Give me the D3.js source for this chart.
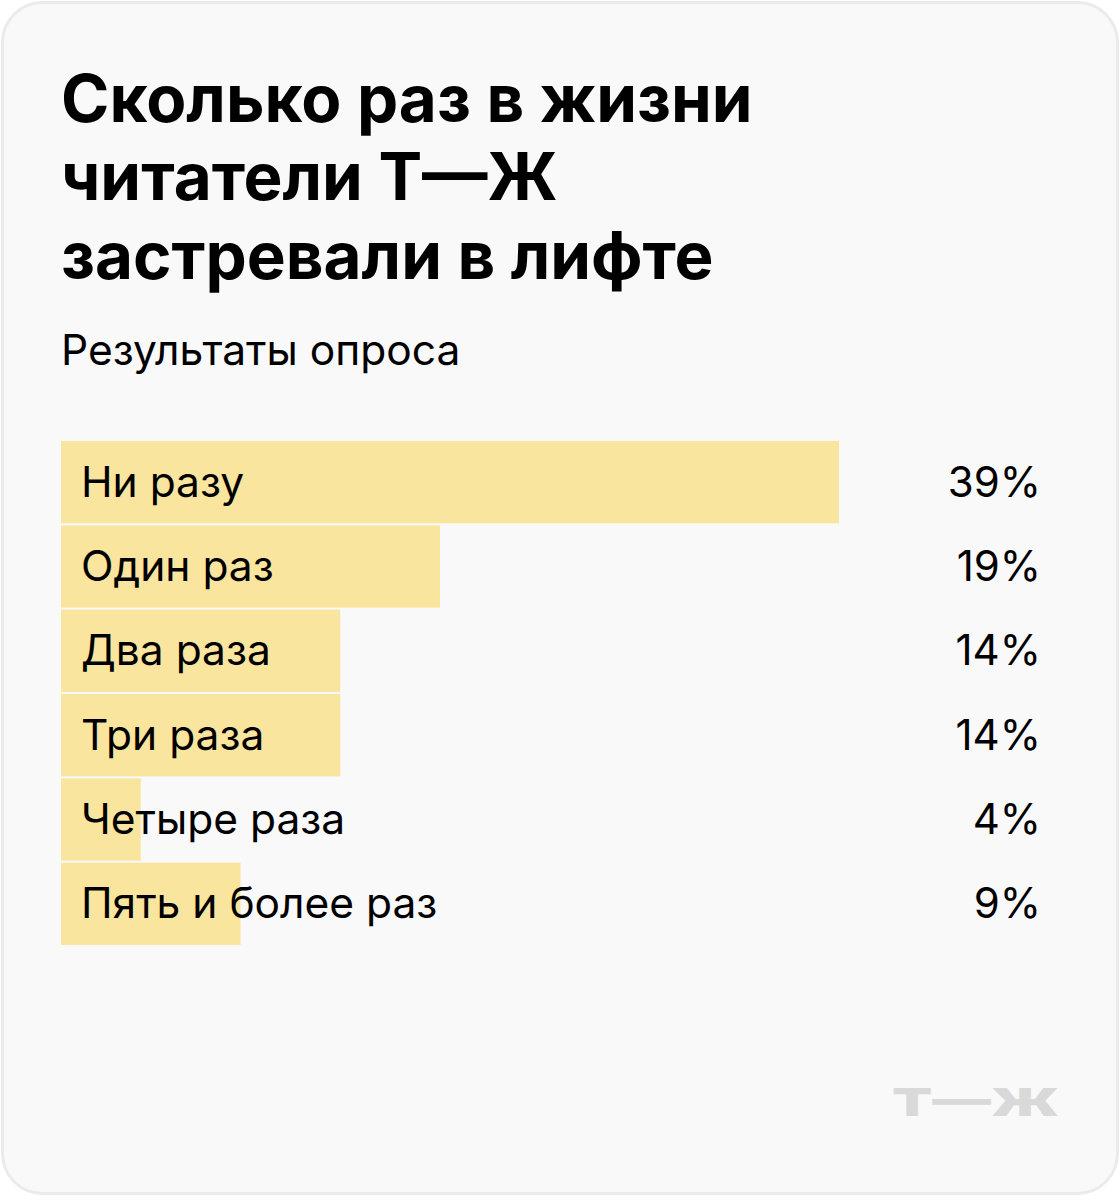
<!DOCTYPE html>
<html><head><meta charset="utf-8">
<script src="https://cdn.jsdelivr.net/npm/d3@7"></script>
<style>html,body{margin:0;padding:0;background:#fff;}svg{display:block;}</style>
</head><body>
<svg id="c" width="1120" height="1196"></svg>
<script>
const categories = ["Ни разу","Один раз","Два раза","Три раза","Четыре раза","Пять и более раз"];
const values = [39,19,14,14,4,9];
const valueLabels = ["39%","19%","14%","14%","4%","9%"];
const titleLines = ["Сколько раз в жизни","читатели Т—Ж","застревали в лифте"];
const subtitle = "Результаты опроса";
const logo = "Т—Ж";

const svg = d3.select("#c");
const F = "Inter, 'Noto Sans', sans-serif";
svg.append("rect").attr("x",2.5).attr("y",2.5).attr("width",1115).attr("height",1191)
  .attr("rx",40).attr("fill","#f9f9f9").attr("stroke","#ebebeb").attr("stroke-width",3);

const t = svg.append("text").attr("font-family",F).attr("font-weight",700).attr("font-size",65.5).attr("fill","#000");
titleLines.forEach((l,i)=>t.append("tspan").attr("x",61).attr("y",121.5+i*78.5).text(l));

svg.append("text").attr("x",61).attr("y",364.5).attr("font-family",F).attr("font-size",42.5).attr("fill","#000").text(subtitle);

const x = d3.scaleLinear().domain([0,39]).range([61,839]);
const y = d3.scaleBand().domain(categories).range([441,441+84*6]).paddingInner(2/84).paddingOuter(0);

svg.selectAll("rect.bar").data(categories).join("rect").attr("class","bar")
  .attr("x",x(0)).attr("y",d=>y(d)).attr("height",y.bandwidth()).attr("width",(d,i)=>x(values[i])-x(0))
  .attr("fill","#fae59f");
svg.selectAll("text.lab").data(categories).join("text").attr("class","lab")
  .attr("x",81).attr("y",d=>y(d)+55.5).attr("font-family",F).attr("font-size",42.5).attr("fill","#000").text(d=>d);
svg.selectAll("text.val").data(categories).join("text").attr("class","val")
  .attr("x",1041).attr("y",d=>y(d)+55.5).attr("text-anchor","end").attr("font-family",F).attr("font-size",42).attr("fill","#000").text((d,i)=>valueLabels[i]);

svg.append("text").attr("x",892).attr("y",1116).attr("font-family",F).attr("font-weight",900)
  .attr("font-size",39).attr("fill","#d9d9d9").attr("textLength",167).attr("lengthAdjust","spacingAndGlyphs").text(logo);
</script>
</body></html>
